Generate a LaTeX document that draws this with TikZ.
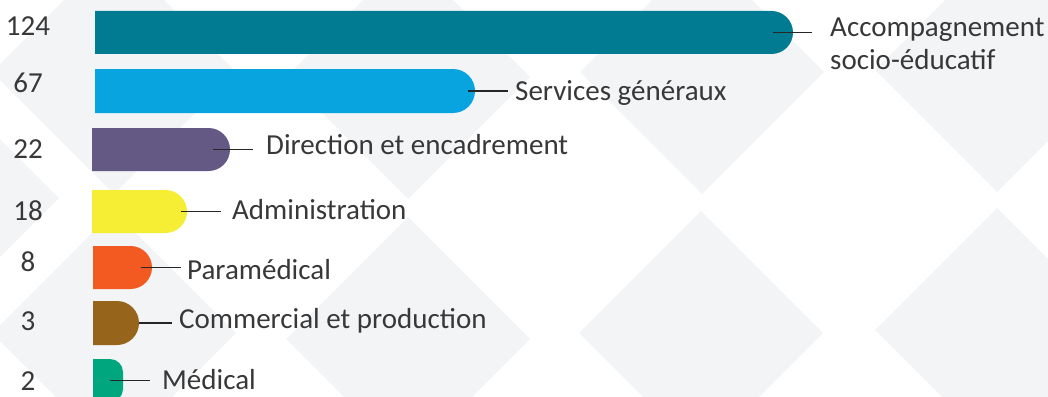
\documentclass[tikz,border=0pt]{standalone}
\usepackage{fontspec}
\setmainfont{Carlito}
\usepackage{xcolor}
\usetikzlibrary{shapes.misc}

\definecolor{fond}{HTML}{F3F4F6}
\definecolor{texte}{HTML}{383838}
\definecolor{rappel}{HTML}{262626}
\definecolor{sarcelle}{HTML}{007B91}
\definecolor{ciel}{HTML}{07A4DF}
\definecolor{violet}{HTML}{645885}
\definecolor{jaune}{HTML}{F5EE35}
\definecolor{orange}{HTML}{F35A22}
\definecolor{brun}{HTML}{96651B}
\definecolor{vert}{HTML}{00A67D}

\begin{document}
\begin{tikzpicture}[x=1pt, y=1pt,
    barre/.style={rounded rectangle, rounded rectangle west arc=none, anchor=west,
      minimum height=43pt, inner sep=0pt, outer sep=0pt},
    lab/.style={font=\fontsize{29}{33}\selectfont, text=texte, inner sep=0pt, anchor=base west, align=left},
    nb/.style={font=\fontsize{29}{33}\selectfont, text=texte, inner sep=0pt, anchor=base},
    trait/.style={draw=rappel, line width=1.8pt}]
    \useasboundingbox (0,0) rectangle (1048,-396);
    \clip (0,0) rectangle (1048,-396);
    % fond en losanges
    \fill[fond] (114,-72) +(-122,0) -- +(0,122) -- +(122,0) -- +(0,-122) -- cycle;
    \fill[fond] (408,-77) +(-122,0) -- +(0,122) -- +(122,0) -- +(0,-122) -- cycle;
    \fill[fond] (702,-72) +(-122,0) -- +(0,122) -- +(122,0) -- +(0,-122) -- cycle;
    \fill[fond] (997,-70) +(-122,0) -- +(0,122) -- +(122,0) -- +(0,-122) -- cycle;
    \fill[fond] (114,-333) +(-122,0) -- +(0,122) -- +(122,0) -- +(0,-122) -- cycle;
    \fill[fond] (408,-339) +(-122,0) -- +(0,122) -- +(122,0) -- +(0,-122) -- cycle;
    \fill[fond] (701,-333) +(-122,0) -- +(0,122) -- +(122,0) -- +(0,-122) -- cycle;
    \fill[fond] (997,-330) +(-122,0) -- +(0,122) -- +(122,0) -- +(0,-122) -- cycle;
    \fill[fond] (-63,-198) +(-122,0) -- +(0,122) -- +(122,0) -- +(0,-122) -- cycle;
    % barres
    \node[barre, fill=sarcelle, minimum width=698pt] (b1) at (95,-32.5) {};
    \node[barre, fill=ciel, minimum width=380pt, minimum height=44pt] (b2) at (95,-91) {};
    \node[barre, fill=violet, minimum width=138pt] (b3) at (92,-149.5) {};
    \node[barre, fill=jaune, minimum width=95pt] (b4) at (92,-211.5) {};
    \node[barre, fill=orange, minimum width=59pt] (b5) at (93,-267.5) {};
    \node[barre, fill=brun, minimum width=46pt, minimum height=44pt] (b6) at (93,-323) {};
    \node[anchor=west, minimum width=30pt, minimum height=43pt, inner sep=0pt, outer sep=0pt] (b7) at (93,-380.5) {};
    \fill[vert] (b7.north west) -- ([xshift=-13pt]b7.north east) arc[start angle=90, end angle=0, radius=13pt]
      -- ([yshift=13pt]b7.south east) arc[start angle=0, end angle=-90, radius=13pt] -- (b7.south west) -- cycle;
    % effectifs
    \node[nb] (n1) at (28,-36) {124};
    \node[nb] (n2) at (28,-92) {67};
    \node[nb] (n3) at (28,-158) {22};
    \node[nb] (n4) at (28,-220) {18};
    \node[nb] (n5) at (28,-271) {8};
    \node[nb] (n6) at (28,-330) {3};
    \node[nb] (n7) at (28,-390) {2};
    % libelles
    \node[lab] (l1) at (830,-70) {Accompagnement\\socio-éducatif};
    \node[lab] (l2) at (515,-100) {Services généraux};
    \node[lab] (l3) at (266,-154) {Direction et encadrement};
    \node[lab] (l4) at (232,-219) {Administration};
    \node[lab] (l5) at (187,-279) {Paramédical};
    \node[lab] (l6) at (179,-328) {Commercial et production};
    \node[lab] (l7) at (162,-389) {Médical};
    % traits de rappel
    \draw[trait] ([xshift=-20pt]b1.east) -- ([xshift=-18pt]b1.east -| l1.west);
    \draw[trait] ([xshift=-7pt]b2.east) -- ([xshift=-7pt]b2.east -| l2.west);
    \draw[trait] ([xshift=-17pt]b3.east) -- ([xshift=-13pt]b3.east -| l3.west);
    \draw[trait] ([xshift=-6pt]b4.east) -- ([xshift=-11pt]b4.east -| l4.west);
    \draw[trait] ([xshift=-11pt]b5.east) -- ([xshift=-6pt]b5.east -| l5.west);
    \draw[trait] (b6.east) -- ([xshift=-7pt]b6.east -| l6.west);
    \draw[trait] ([xshift=-13pt]b7.east) -- ([xshift=-12pt]b7.east -| l7.west);
\end{tikzpicture}
\end{document}
